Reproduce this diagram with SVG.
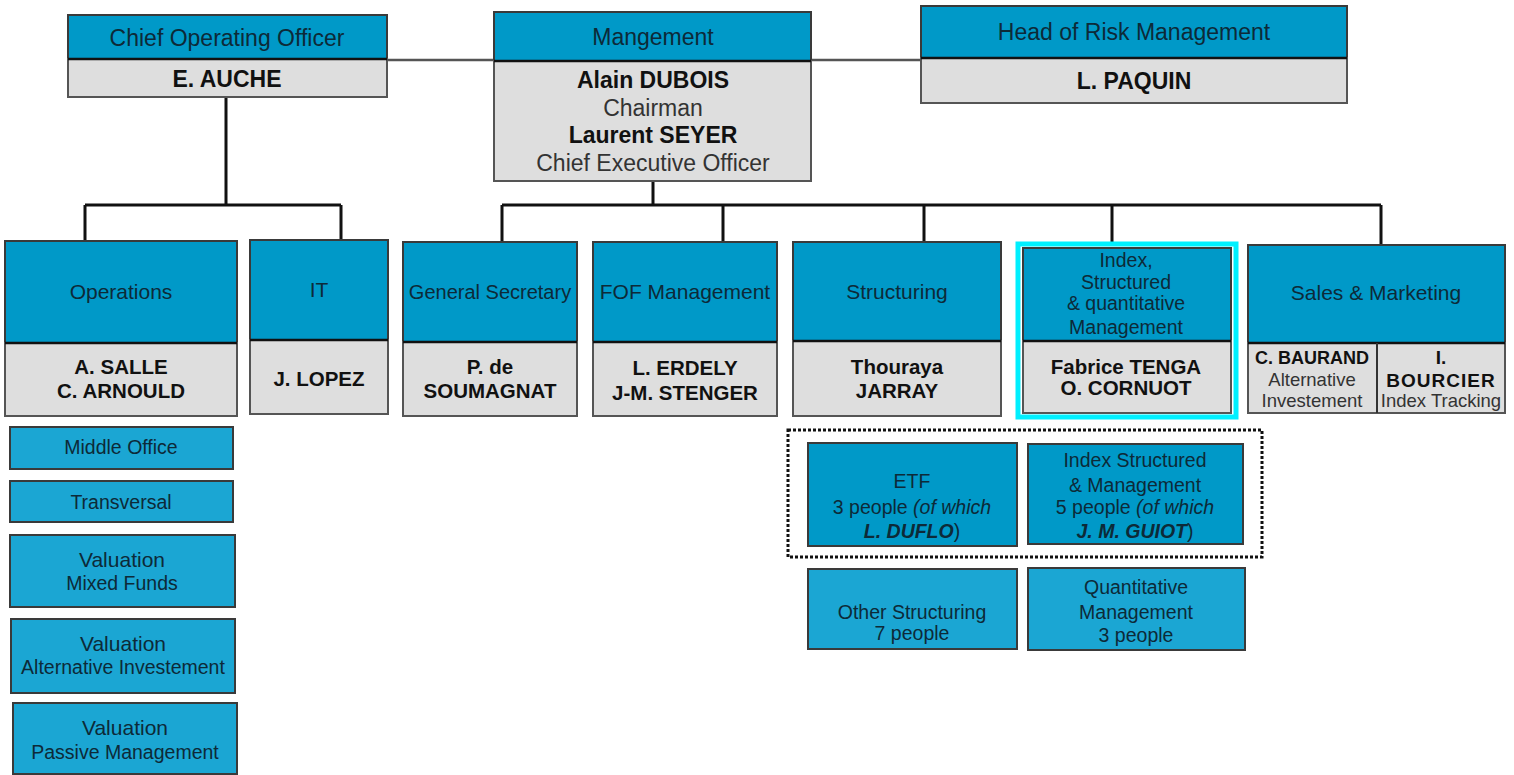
<svg xmlns="http://www.w3.org/2000/svg" width="1514" height="775" viewBox="0 0 1514 775">
<style>
text{font-family:"Liberation Sans",Arial,sans-serif;text-anchor:middle}
.hd{fill:#0099c8;stroke:#3a3a3a;stroke-width:2}
.sub{fill:#1ba6d3;stroke:#3a3a3a;stroke-width:2}
.bd{fill:#dedede;stroke:#555;stroke-width:2}
.sep{stroke:#111;stroke-width:2.5}
.t1{font-size:23px;fill:#0d2a38}
.t2{font-size:21px;fill:#0d2a38}
.t3{font-size:19.5px;fill:#0d2a38}
.n1{font-size:23px;font-weight:bold;fill:#111}
.n2{font-size:20.5px;font-weight:bold;fill:#111}
.r1{font-size:23px;fill:#333}
.s1{font-size:18.5px;fill:#333}
.conn{fill:none;stroke:#111;stroke-width:3}
.gl{fill:none;stroke:#555;stroke-width:2.5}
</style>
<g id="connectors">
<path class="gl" d="M387 60H494M811 60H921"/>
<path class="conn" d="M226 97V205M85 205H341M85 205V241M341 205V240"/>
<path class="conn" d="M653 181V205M502 205H1381M502 205V242M723 205V242M924 205V242M1112 205V243M1381 205V245"/>
</g>
<g id="coo">
<rect class="hd" x="68" y="15" width="319" height="44"/>
<rect class="bd" x="68" y="59" width="319" height="38"/>
<line class="sep" x1="68" y1="59" x2="387" y2="59"/>
<text class="t1" x="227" y="46">Chief Operating Officer</text>
<text class="n1" x="227" y="87">E. AUCHE</text>
</g>
<g id="management">
<rect class="hd" x="494" y="12" width="317" height="49"/>
<rect class="bd" x="494" y="61" width="317" height="120"/>
<line class="sep" x1="494" y1="61" x2="811" y2="61"/>
<text class="t1" x="653" y="45">Mangement</text>
<text class="n1" x="653" y="88">Alain DUBOIS</text>
<text class="r1" x="653" y="116">Chairman</text>
<text class="n1" x="653" y="143">Laurent SEYER</text>
<text class="r1" x="653" y="171">Chief Executive Officer</text>
</g>
<g id="risk">
<rect class="hd" x="921" y="6" width="426" height="52"/>
<rect class="bd" x="921" y="58" width="426" height="45"/>
<line class="sep" x1="921" y1="58" x2="1347" y2="58"/>
<text class="t1" x="1134" y="40">Head of Risk Management</text>
<text class="n1" x="1134" y="89">L. PAQUIN</text>
</g>
<g id="operations">
<rect class="hd" x="5" y="241" width="232" height="102"/>
<rect class="bd" x="5" y="343" width="232" height="73"/>
<line class="sep" x1="5" y1="343" x2="237" y2="343"/>
<text class="t2" x="121" y="299">Operations</text>
<text class="n2" x="121" y="374">A. SALLE</text>
<text class="n2" x="121" y="398">C. ARNOULD</text>
</g>
<g id="it">
<rect class="hd" x="250" y="240" width="138" height="100"/>
<rect class="bd" x="250" y="340" width="138" height="74"/>
<line class="sep" x1="250" y1="340" x2="388" y2="340"/>
<text class="t2" x="319" y="297">IT</text>
<text class="n2" x="319" y="386">J. LOPEZ</text>
</g>
<g id="gensec">
<rect class="hd" x="403" y="242" width="174" height="100"/>
<rect class="bd" x="403" y="342" width="174" height="74"/>
<line class="sep" x1="403" y1="342" x2="577" y2="342"/>
<text class="t2" x="490" y="299" style="font-size:20px">General Secretary</text>
<text class="n2" x="490" y="374">P. de</text>
<text class="n2" x="490" y="398">SOUMAGNAT</text>
</g>
<g id="fof">
<rect class="hd" x="593" y="242" width="184" height="100"/>
<rect class="bd" x="593" y="342" width="184" height="74"/>
<line class="sep" x1="593" y1="342" x2="777" y2="342"/>
<text class="t2" x="685" y="299">FOF Management</text>
<text class="n2" x="685" y="375">L. ERDELY</text>
<text class="n2" x="685" y="400">J-M. STENGER</text>
</g>
<g id="structuring">
<rect class="hd" x="793" y="242" width="208" height="99"/>
<rect class="bd" x="793" y="341" width="208" height="75"/>
<line class="sep" x1="793" y1="341" x2="1001" y2="341"/>
<text class="t2" x="897" y="299">Structuring</text>
<text class="n2" x="897" y="374">Thouraya</text>
<text class="n2" x="897" y="398">JARRAY</text>
</g>
<g id="index">
<rect x="1018" y="244" width="218" height="173" fill="none" stroke="#00f0ff" stroke-width="5"/>
<rect class="hd" x="1023" y="248" width="208" height="93"/>
<rect class="bd" x="1023" y="341" width="208" height="72"/>
<line class="sep" x1="1023" y1="341" x2="1231" y2="341"/>
<text class="t3" x="1126" y="267">Index,</text>
<text class="t3" x="1126" y="289">Structured</text>
<text class="t3" x="1126" y="310">&amp; quantitative</text>
<text class="t3" x="1126" y="334">Management</text>
<text class="n2" x="1126" y="374">Fabrice TENGA</text>
<text class="n2" x="1126" y="395">O. CORNUOT</text>
</g>
<g id="sales">
<rect class="hd" x="1248" y="245" width="257" height="98"/>
<rect class="bd" x="1248" y="343" width="257" height="70"/>
<line class="sep" x1="1248" y1="343" x2="1505" y2="343"/>
<line x1="1377" y1="343" x2="1377" y2="413" stroke="#333" stroke-width="2"/>
<text class="t2" x="1376" y="300">Sales &amp; Marketing</text>
<text class="n2" x="1312" y="364" style="font-size:18px">C. BAURAND</text>
<text class="s1" x="1312" y="386">Alternative</text>
<text class="s1" x="1312" y="407">Investement</text>
<text class="n2" x="1441" y="364" style="font-size:19px">I.</text>
<text class="n2" x="1441" y="387" style="font-size:19px;letter-spacing:1px">BOURCIER</text>
<text class="s1" x="1441" y="407">Index Tracking</text>
</g>
<g id="middle-office">
<rect class="sub" x="10" y="427" width="223" height="42"/>
<text class="t3" x="121" y="454">Middle Office</text>
</g>
<g id="transversal">
<rect class="sub" x="10" y="481" width="223" height="41"/>
<text class="t3" x="121" y="509">Transversal</text>
</g>
<g id="val-mixed">
<rect class="sub" x="10" y="535" width="225" height="72"/>
<text class="t2" x="122" y="567">Valuation</text>
<text class="t3" x="122" y="590">Mixed Funds</text>
</g>
<g id="val-alt">
<rect class="sub" x="11" y="619" width="224" height="74"/>
<text class="t2" x="123" y="651">Valuation</text>
<text class="t3" x="123" y="674">Alternative Investement</text>
</g>
<g id="val-passive">
<rect class="sub" x="13" y="703" width="224" height="71"/>
<text class="t2" x="125" y="735">Valuation</text>
<text class="t3" x="125" y="759">Passive Management</text>
</g>
<g id="etf-group">
<rect x="788" y="430" width="474" height="127" fill="none" stroke="#111" stroke-width="3" stroke-dasharray="3 2"/>
</g>
<g id="etf">
<rect class="hd" x="808" y="443" width="209" height="103"/>
<text class="t3" x="912" y="488">ETF</text>
<text class="t3" x="912" y="514">3 people <tspan font-style="italic">(of which</tspan></text>
<text class="t3" x="912" y="538"><tspan font-style="italic" font-weight="bold">L. DUFLO</tspan>)</text>
</g>
<g id="index-structured">
<rect class="hd" x="1028" y="444" width="215" height="100"/>
<text class="t3" x="1135" y="467">Index Structured</text>
<text class="t3" x="1135" y="492">&amp; Management</text>
<text class="t3" x="1135" y="514">5 people <tspan font-style="italic">(of which</tspan></text>
<text class="t3" x="1135" y="538"><tspan font-style="italic" font-weight="bold">J. M. GUIOT</tspan>)</text>
</g>
<g id="other-structuring">
<rect class="sub" x="808" y="569" width="209" height="80"/>
<text class="t3" x="912" y="619">Other Structuring</text>
<text class="t3" x="912" y="640">7 people</text>
</g>
<g id="quantitative">
<rect class="sub" x="1028" y="568" width="217" height="82"/>
<text class="t3" x="1136" y="594">Quantitative</text>
<text class="t3" x="1136" y="619">Management</text>
<text class="t3" x="1136" y="642">3 people</text>
</g>
</svg>
